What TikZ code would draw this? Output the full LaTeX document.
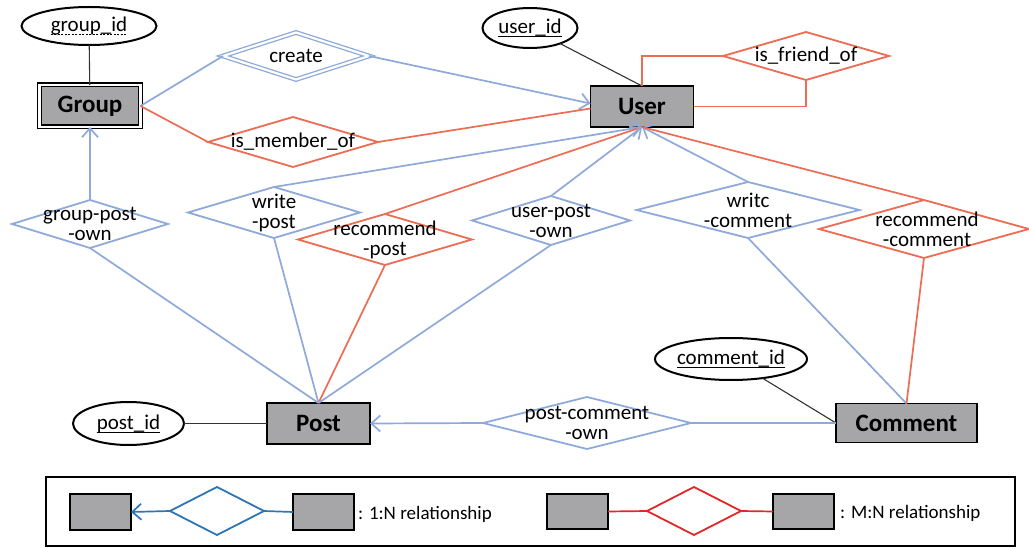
\documentclass[tikz,border=0pt]{standalone}
\usepackage{fontspec}
\setmainfont{Carlito}
\usetikzlibrary{shapes.geometric,arrows.meta}

\definecolor{relblue}{RGB}{143,170,218}
\definecolor{relred}{RGB}{237,108,84}
\definecolor{keyblue}{RGB}{46,117,182}
\definecolor{keyred}{RGB}{224,40,40}
\definecolor{entgray}{RGB}{166,166,168}

\begin{document}
\begin{tikzpicture}[x=1pt,y=-1pt,
  >={Straight Barb[length=9pt,width=16pt]},
  entity/.style={rectangle, draw=black, line width=1.8pt, fill=entgray,
    inner sep=0pt, outer sep=0pt, font=\fontsize{25}{27}\selectfont\bfseries},
  weakentity/.style={entity, line width=1.4pt, double=white, double distance=2.2pt},
  attr/.style={ellipse, draw=black, line width=2pt, inner sep=0pt, outer sep=0pt},
  attrlbl/.style={inner sep=0pt, font=\fontsize{21}{23}\selectfont},
  keyline/.style={draw=black, line width=1pt},
  rel/.style={diamond, draw=relblue, line width=1.8pt, inner sep=0pt, outer sep=0pt},
  mnrel/.style={rel, draw=relred},
  lbl/.style={inner sep=0pt, align=center, font=\fontsize{21}{20}\selectfont},
  blueline/.style={draw=relblue, line width=1.7pt},
  redline/.style={draw=relred, line width=1.7pt},
  attrline/.style={draw=black!80, line width=1.1pt},
  keytext/.style={anchor=west, inner sep=0pt, font=\fontsize{19}{21}\selectfont}
]
\fill[white] (0,0) rectangle (1029,548);
\useasboundingbox (0,0) rectangle (1029,548);

% ---- entities and attributes ----
\node[attr, minimum width=135pt, minimum height=38pt] (gid) at (89,26) {};
\node[attrlbl] (gidlbl) at (gid) {group\_id};
\draw[keyline, dash pattern=on 2pt off 1.5pt] ([yshift=-3pt]gidlbl.base west) -- ([yshift=-3pt]gidlbl.base east);
\node[weakentity, minimum width=101pt, minimum height=42pt] (group) at (90,106) {Group};

\node[attr, minimum width=95pt, minimum height=40pt] (uid) at (530,28) {};
\node[attrlbl] (uidlbl) at (uid) {user\_id};
\draw[keyline] ([yshift=-3pt]uidlbl.base west) -- ([yshift=-3pt]uidlbl.base east);
\node[entity, minimum width=103pt, minimum height=41pt] (user) at (642,106.5) {User};

\node[attr, minimum width=111pt, minimum height=43pt] (pid) at (128.5,423.5) {};
\node[attrlbl] (pidlbl) at (pid) {post\_id};
\draw[keyline] ([yshift=-3pt]pidlbl.base west) -- ([yshift=-3pt]pidlbl.base east);
\node[entity, minimum width=103pt, minimum height=41pt] (post) at (318.5,423.5) {Post};

\node[attr, minimum width=152pt, minimum height=42pt] (cid) at (731,359) {};
\node[attrlbl] (cidlbl) at (cid) {comment\_id};
\draw[keyline] ([yshift=-3pt]cidlbl.base west) -- ([yshift=-3pt]cidlbl.base east);
\node[entity, minimum width=141pt, minimum height=39pt] (comment) at (906.5,423) {Comment};

% ---- relationships ----
\node[rel, line width=1.3pt, double=white, double distance=2.2pt,
      minimum width=146pt, minimum height=47pt] (create) at (296,56) {};
\node[lbl] (createlbl) at (create) {create};
\node[mnrel, minimum width=170pt, minimum height=50pt] (member) at (293,142) {};
\node[lbl] (memberlbl) at (member) {is\_member\_of};
\node[mnrel, minimum width=166pt, minimum height=48pt] (friend) at (806,56) {};
\node[lbl] (friendlbl) at (friend) {is\_friend\_of};
\node[rel, minimum width=156pt, minimum height=48pt] (gpo) at (90,224) {};
\node[lbl] (gpolbl) at (gpo) {group-post\\-own};
\node[rel, minimum width=172pt, minimum height=51pt] (wpost) at (274,212.5) {};
\node[lbl] (wpostlbl) at (wpost) {write\\-post};
\node[mnrel, minimum width=174pt, minimum height=51pt] (rpost) at (385,239.5) {};
\node[lbl] (rpostlbl) at (rpost) {recommend\\-post};
\node[rel, minimum width=158pt, minimum height=49pt] (upo) at (551,220.5) {};
\node[lbl] (upolbl) at (upo) {user-post\\-own};
\node[rel, minimum width=223pt, minimum height=56pt] (wcom) at (748,210) {};
\node[lbl] (wcomlbl) at (wcom) {writc\\-comment};
\node[mnrel, minimum width=210pt, minimum height=58pt] (rcom) at (924,229) {};
\node[lbl] (rcomlbl) at ([xshift=3pt]rcom.center) {recommend\\-comment};
\node[rel, minimum width=208pt, minimum height=52pt] (pco) at (587,423) {};
\node[lbl] (pcolbl) at (pco) {post-comment\\-own};

% ---- attribute links ----
\draw[attrline] (gid) -- (group);
\draw[attrline] (uid) -- (user.north);
\draw[attrline] (pid) -- (post);
\draw[attrline] (cid) -- (comment.west);

% ---- Group relationships ----
\draw[blueline] (group.east) -- (create.west);
\draw[blueline,->] (create.east) -- ([yshift=3pt]user.west);
\draw[redline] (group.east) -- (member.west);
\draw[redline] (member.east) -- ([yshift=-2pt]user.west);
\draw[blueline,->] (gpo.north) -- (group.south);
\draw[blueline] (gpo.south) -- (post.north);

% ---- User self relationship ----
\draw[redline] (user.north) |- (friend.west);
\draw[redline] (friend.south) |- (user.east);

% ---- Post relationships ----
\draw[blueline,->] (wpost.north) -- (user.south);
\draw[blueline] (wpost.south) -- (post.north);
\draw[redline] (rpost.north) -- (user.south);
\draw[redline] (rpost.south) -- (post.north);
\draw[blueline,->] (upo.north) -- (user.south);
\draw[blueline] (upo.south) -- (post.north);

% ---- Comment relationships ----
\draw[blueline,->] (wcom.north) -- (user.south);
\draw[blueline] (wcom.south) -- (comment.north);
\draw[redline] (rcom.north) -- (user.south);
\draw[redline] (rcom.south) -- (comment.north);
\draw[blueline,->] (pco.west) -- (post.east);
\draw[blueline] (pco.east) -- (comment.west);

% ---- legend ----
\node[draw=black, line width=1.5pt, inner sep=0pt, outer sep=0pt,
      minimum width=969pt, minimum height=69pt] (legend) at (530.5,511.5) {};
\node[entity, line width=1.5pt, minimum width=61pt, minimum height=36pt] (ka) at (100.5,512) {};
\node[rel, draw=keyblue, minimum width=94pt, minimum height=48pt] (kr) at (217,511) {};
\node[entity, line width=1.5pt, minimum width=61pt, minimum height=36pt] (kb) at (323.5,512) {};
\draw[draw=keyblue, line width=1.7pt, ->] (kr.west) -- (ka.east);
\draw[draw=keyblue, line width=1.7pt] (kr.east) -- (kb.west);
\node[keytext] (kt) at (358,514) {: 1:N relationship};

\node[entity, line width=1.5pt, minimum width=61pt, minimum height=35pt] (kc) at (577.5,511.5) {};
\node[rel, draw=keyred, minimum width=94pt, minimum height=48pt] (ks) at (694,511) {};
\node[entity, line width=1.5pt, minimum width=61pt, minimum height=35pt] (kd) at (803.5,511.5) {};
\draw[draw=keyred, line width=1.7pt] (kc.east) -- (ks.west);
\draw[draw=keyred, line width=1.7pt] (ks.east) -- (kd.west);
\node[keytext] (ku) at (840,513) {: M:N relationship};
\end{tikzpicture}
\end{document}
